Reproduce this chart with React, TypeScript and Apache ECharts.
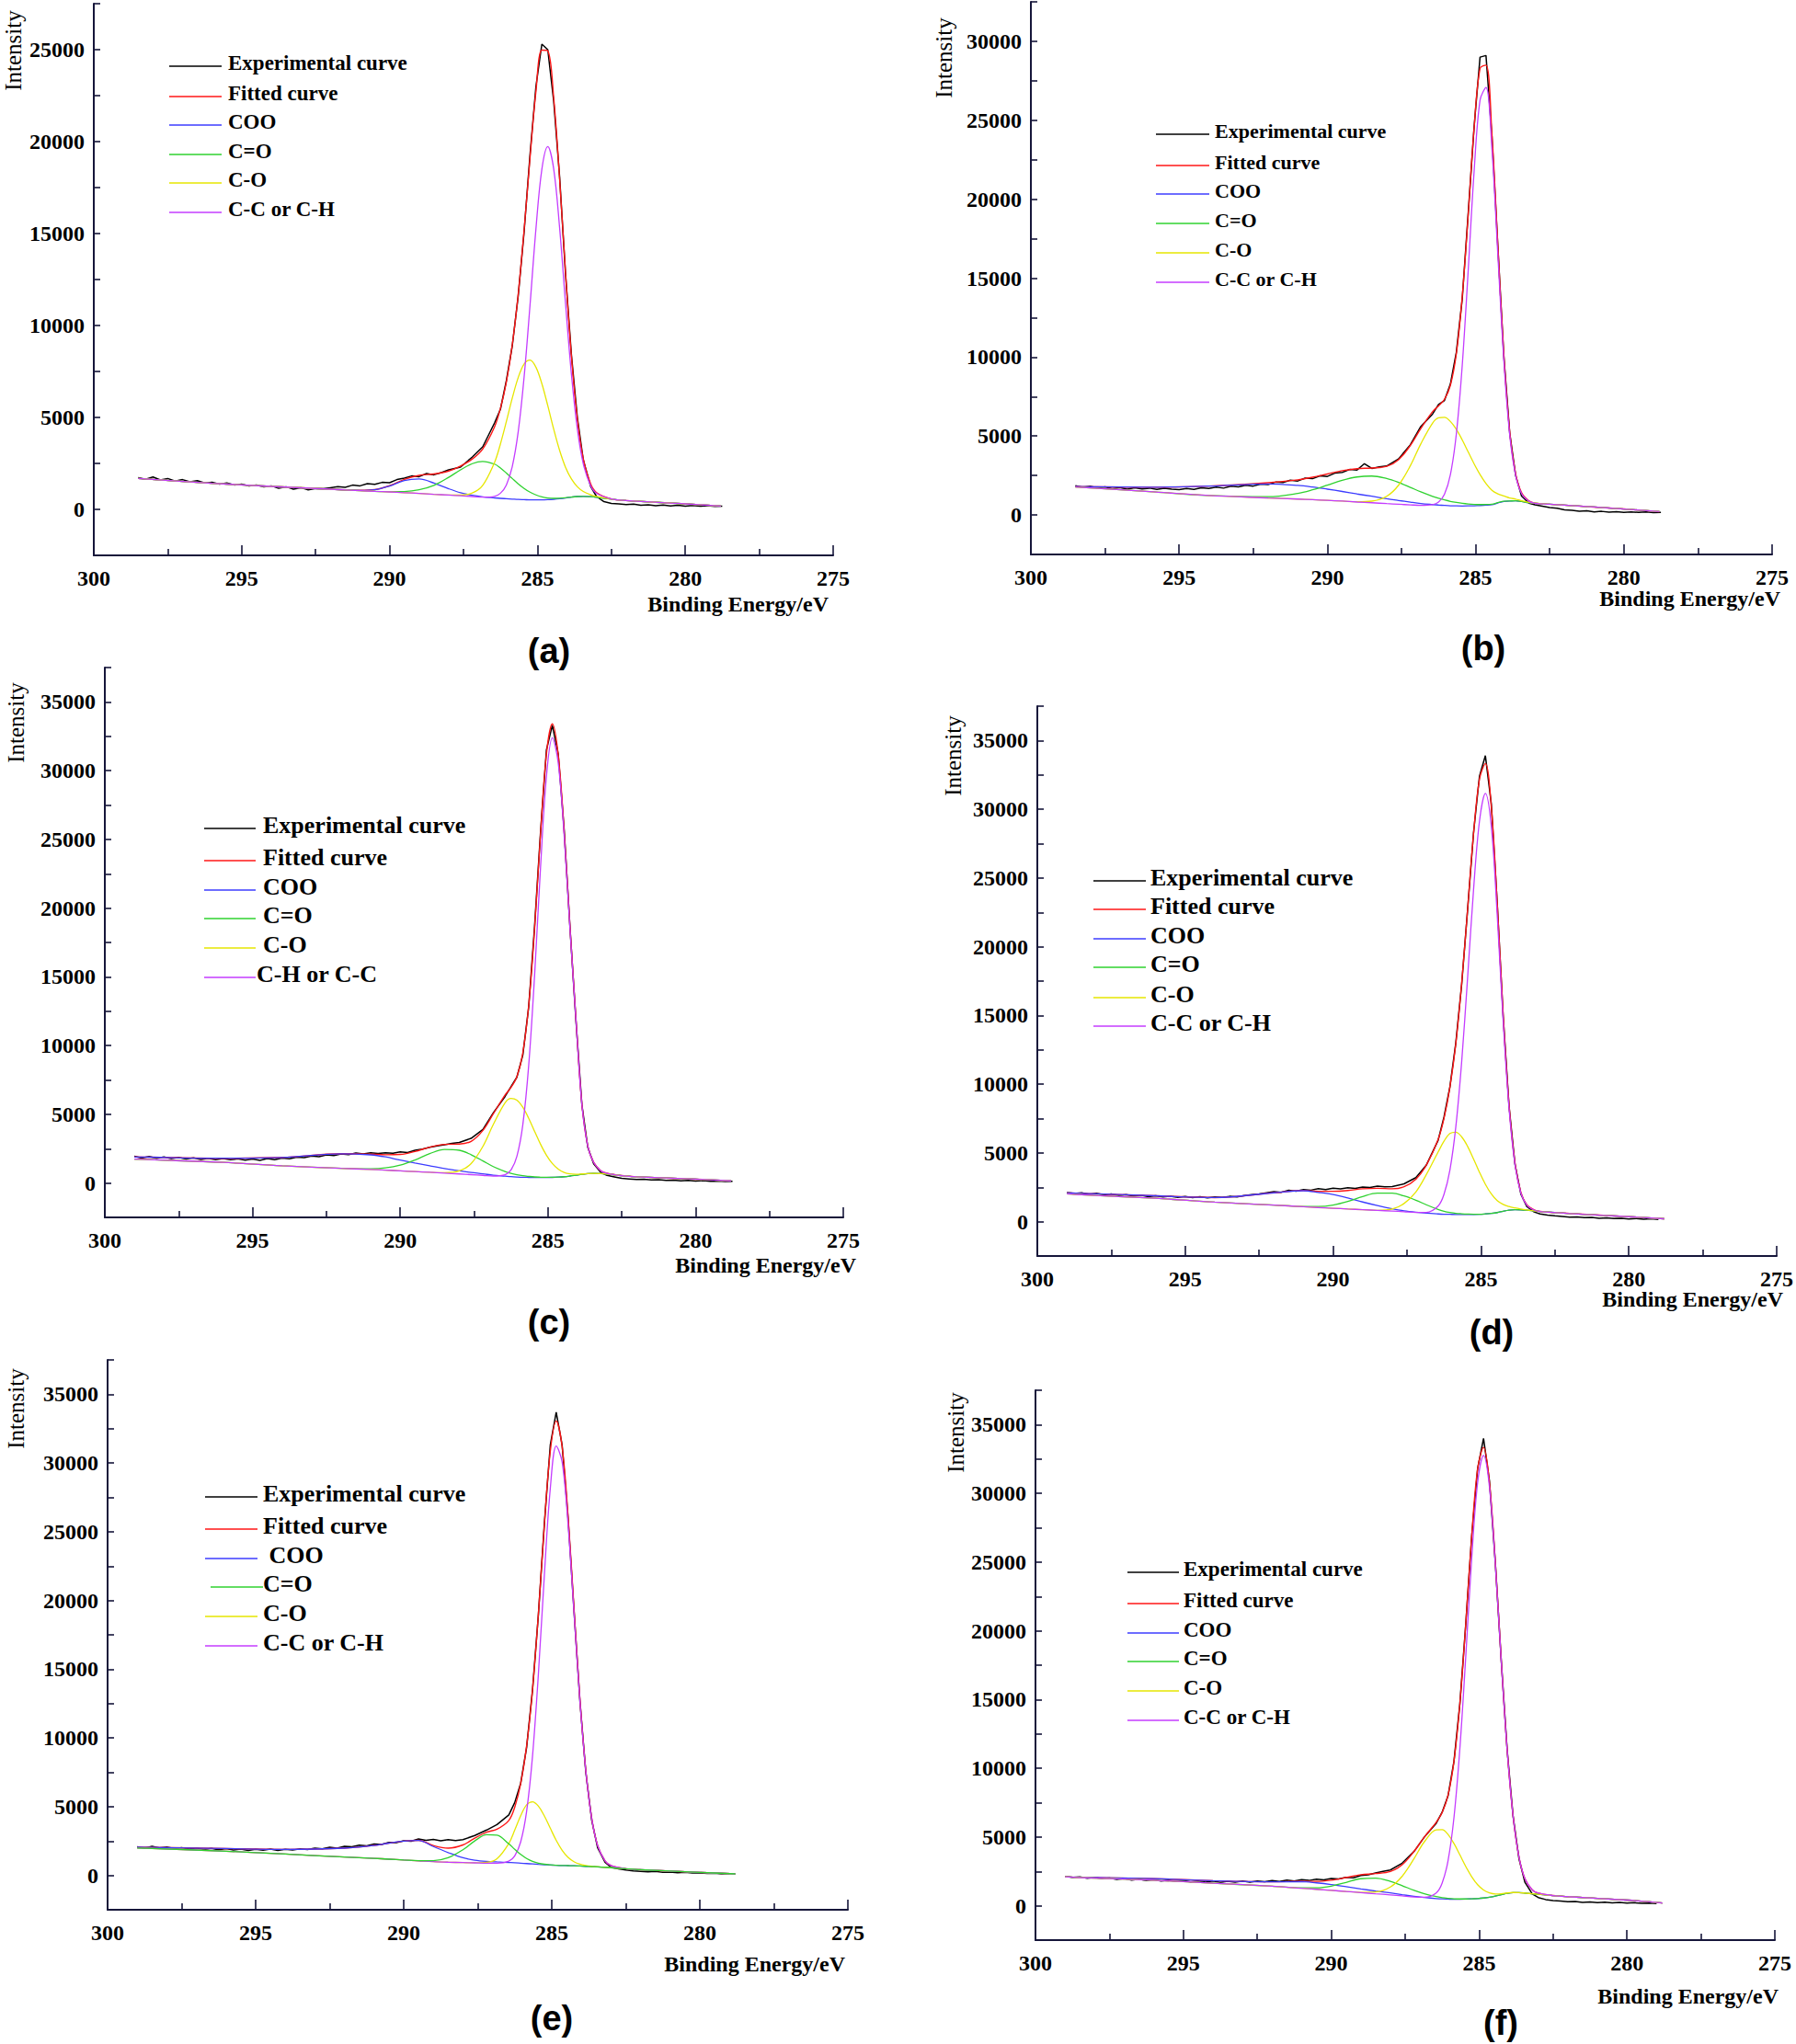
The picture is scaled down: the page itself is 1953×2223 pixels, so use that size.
import React, { useEffect, useRef } from 'react';
import * as echarts from 'echarts';

// ---------- shared x grids (binding energy, eV) ----------
const FIT_X = [299, 298.5, 296, 294, 292, 291, 290.5, 290, 289.5, 289, 288.5, 288, 287.6, 287.2, 286.85, 286.45, 286.25, 286.05, 285.85, 285.65, 285.45, 285.25, 285.05, 284.85, 284.65, 284.45, 284.25, 284.05, 283.85, 283.65, 283.45, 283.2, 283, 282.5, 282, 280, 278.8];

const EXP_X = [299, 298.75, 298.5, 298.25, 298, 297.75, 297.5, 297.25, 297, 296.75, 296.5, 296.25, 296, 295.75, 295.5, 295.25, 295, 294.75, 294.5, 294.25, 294, 293.75, 293.5, 293.25, 293, 292.75, 292.5, 292.25, 292, 291.75, 291.5, 291.25, 291, 290.75, 290.5, 290.25, 290, 289.75, 289.5, 289.25, 289, 288.75, 288.5, 288.25,
  288, 287.6, 287.2, 286.85, 286.45, 286.25, 286.05, 285.85, 285.65, 285.45, 285.25, 285.05, 284.85, 284.65, 284.45, 284.25, 284.05, 283.85, 283.65, 283.45, 283.2, 283,
  282.75, 282.5, 282.25, 282, 281.75, 281.5, 281.25, 281, 280.75, 280.5, 280.25, 280, 279.75, 279.5, 279.25, 279, 278.75];

const X_TICKS = [300, 295, 290, 285, 280, 275];
const Y_MAX = [27500, 32500, 37500, 37500, 37500, 37500];

const SERIES_NAMES = ['Experimental curve', 'Fitted curve', 'COO', 'C=O', 'C-O', 'C-C or C-H'];
const LEGEND_A = ['Experimental curve', 'Fitted curve', 'COO', 'C=O', 'C-O', 'C-C or C-H'];
const LEGEND_B = ['Experimental curve', 'Fitted curve', 'COO', 'C=O', 'C-O', 'C-C or C-H'];
const LEGEND_C = ['Experimental curve', 'Fitted curve', 'COO', 'C=O', 'C-O', 'C-H or C-C'];
const LEGEND_D = ['Experimental curve', 'Fitted curve', 'COO', 'C=O', 'C-O', 'C-C or C-H'];
const LEGEND_E = ['Experimental curve', 'Fitted curve', ' COO', 'C=O', 'C-O', 'C-C or C-H'];
const LEGEND_F = ['Experimental curve', 'Fitted curve', 'COO', 'C=O', 'C-O', 'C-C or C-H'];
const PANEL_LABELS = ['(a)', '(b)', '(c)', '(d)', '(e)', '(f)'];

// ---------- panel (a) ----------
const A_BASE = [null, 1680, 1420, 1250, 1100, 1020, 980, 950, 910, 870, 820, 780, 740, 700, 660, 620, 600, 580, 560, 540, 530, 520, 520, 520, 530, 550, 580, 620, 670, 700, 710, 690, 660, 560, 480, 300, 180];
const A_COO = [0, 0, 0, 0, 0, 14, 89, 321, 661, 785, 616, 343, 167, 66, 24, 6, 0, 0, 0, 0, 0, 0, 0, 0, 0, 0, 0, 0, 0, 0, 0, 0, 0, 0, 0, 0, 0];
const A_CDO = [0, 0, 0, 0, 0, 0, 3, 16, 63, 196, 487, 964, 1411, 1788, 1950, 1842, 1650, 1398, 1121, 851, 611, 415, 267, 163, 94, 51, 26, 12, 0, 0, 0, 0, 0, 0, 0, 0, 0];
const A_CO = [0, 0, 0, 0, 0, 0, 0, 0, 0, 0, 0, 0, 35, 190, 646, 1933, 2965, 4200, 5493, 6627, 7381, 7600, 7210, 6317, 5110, 3816, 2630, 1673, 983, 533, 267, 100, 42, 0, 0, 0, 0];
const A_CC = [0, 0, 0, 0, 0, 0, 0, 0, 0, 0, 0, 0, 0, 0, 6, 90, 280, 750, 1776, 3677, 6667, 10589, 14738, 17972, 19200, 17972, 14738, 10589, 6667, 3677, 1776, 595, 213, 9, 0, 0, 0];
const A_EXP = [null, null, 1720, 1640, 1760, 1600, 1680, 1540, 1620, 1500, 1560, 1440, 1470, 1380, 1440, 1330, 1380, 1270, 1330, 1220, 1280, 1150, 1230, 1100, 1180, 1060, 1140, 1120, 1180, 1240, 1200, 1320, 1280, 1400, 1360, 1470, 1450, 1620, 1700, 1820, 1780, 1950, 1880, 2000,
  2150, 2300, 2850, 3400, 4700, 5450, 7000, 8900, 11600, 15100, 19300, 23000, 25300, 25000, 22200, 18100, 12800, 8400, 5000, 2700, 1250, 700,
  420, 330, 300, 260, 290, 230, 250, 200, 240, 190, 230, 180, 210, 170, 200, 160, 180];

// ---------- panel (b) ----------
const B_BASE = [null, 1770, 1480, 1230, 1080, 1010, 970, 925, 880, 820, 775, 720, 680, 640, 610, 590, 580, 575, 570, 570, 570, 575, 585, 600, 620, 650, 760, 860, 880, 900, 850, 780, 740, 680, 620, 380, 210];
const B_COO = [0, 30, 280, 600, 880, 860, 800, 710, 610, 510, 410, 310, 240, 175, 120, 70, 50, 30, 15, 5, 0, 0, 0, 0, 0, 0, 0, 0, 0, 0, 0, 0, 0, 0, 0, 0, 0];
const B_CDO = [0, 0, 0, 1, 79, 354, 622, 963, 1316, 1587, 1690, 1587, 1381, 1107, 855, 591, 476, 377, 292, 222, 165, 120, 86, 60, 41, 28, 18, 12, 7, 0, 0, 0, 0, 0, 0, 0, 0];
const B_CO = [0, 0, 0, 0, 0, 0, 0, 0, 0, 16, 102, 462, 1203, 2485, 3886, 5232, 5572, 5607, 5352, 4853, 4178, 3416, 2652, 1957, 1370, 911, 576, 346, 197, 106, 55, 20, 9, 0, 0, 0, 0];
const B_CC = [0, 0, 0, 0, 0, 0, 0, 0, 0, 0, 0, 0, 0, 0, 3, 62, 233, 737, 1985, 4560, 8930, 14900, 21190, 25675, 26460, 22550, 15730, 8990, 4200, 1610, 505, 89, 0, 0, 0, 0, 0];
const B_EXP = [null, null, 1850, 1750, 1820, 1700, 1780, 1660, 1740, 1640, 1720, 1650, 1700, 1620, 1690, 1640, 1600, 1680, 1620, 1720, 1680, 1760, 1700, 1820, 1780, 1880, 1830, 1960, 1920, 2080, 2050, 2200, 2150, 2330, 2300, 2480, 2440, 2650, 2700, 2880, 2850, 3250, 2950, 3050,
  3100, 3550, 4450, 5600, 6400, 7000, 7250, 8300, 10300, 13700, 19100, 24600, 29000, 29100, 24000, 17000, 10100, 5200, 2500, 1200, 750, 640,
  560, 470, 420, 330, 300, 240, 260, 200, 230, 180, 210, 170, 200, 160, 190, 150, 170];

// ---------- panel (c) ----------
const C_BASE = [1745, 1700, 1500, 1250, 1070, 990, 940, 885, 830, 780, 720, 660, 610, 560, 500, 460, 440, 425, 415, 410, 400, 400, 400, 410, 430, 460, 510, 570, 630, 680, 700, 680, 650, 540, 450, 280, 160];
const C_COO = [150, 180, 300, 610, 1060, 1060, 960, 780, 620, 470, 340, 230, 160, 110, 70, 40, 25, 15, 5, 0, 0, 0, 0, 0, 0, 0, 0, 0, 0, 0, 0, 0, 0, 0, 0, 0, 0];
const C_CDO = [0, 0, 0, 0, 2, 48, 159, 413, 843, 1358, 1723, 1723, 1452, 1050, 698, 379, 264, 177, 114, 71, 42, 24, 13, 7, 0, 0, 0, 0, 0, 0, 0, 0, 0, 0, 0, 0, 0];
const C_CO = [0, 0, 0, 0, 0, 0, 0, 0, 0, 0, 29, 224, 808, 2108, 3753, 5381, 5716, 5609, 5100, 4297, 3353, 2424, 1626, 1010, 581, 310, 153, 70, 30, 12, 0, 0, 0, 0, 0, 0, 0];
const C_CC = [0, 0, 0, 0, 0, 0, 0, 0, 0, 0, 0, 0, 0, 0, 7, 144, 508, 1513, 3818, 8155, 14733, 22533, 29172, 31978, 30113, 24817, 17909, 11302, 5100, 2000, 800, 200, 60, 0, 0, 0, 0];
const C_EXP = [1950, 1820, 1930, 1800, 1900, 1780, 1860, 1740, 1830, 1720, 1800, 1700, 1780, 1690, 1760, 1660, 1750, 1650, 1780, 1700, 1820, 1760, 1880, 1850, 1960, 1920, 2050, 2000, 2120, 2060, 2180, 2120, 2200, 2150, 2200, 2170, 2260, 2220, 2380, 2470, 2600, 2700, 2780, 2880,
  2950, 3250, 3900, 5100, 6300, 7000, 7700, 9300, 12800, 18700, 25500, 31500, 33300, 31200, 25700, 18500, 11800, 5700, 2600, 1400, 750, 560,
  450, 340, 300, 260, 280, 220, 240, 190, 210, 160, 190, 140, 170, 120, 150, 110, 120];

// ---------- panel (d) ----------
const D_BASE = [2020, 1950, 1700, 1420, 1200, 1090, 1030, 975, 920, 870, 820, 770, 720, 660, 610, 560, 540, 530, 520, 520, 520, 520, 530, 560, 600, 660, 760, 840, 870, 860, 830, 780, 740, 660, 590, 360, 210];
const D_COO = [90, 110, 180, 330, 900, 1160, 1100, 1000, 800, 560, 350, 170, 70, 25, 5, 0, 0, 0, 0, 0, 0, 0, 0, 0, 0, 0, 0, 0, 0, 0, 0, 0, 0, 0, 0, 0, 0];
const D_CDO = [0, 0, 0, 0, 0, 18, 74, 234, 549, 960, 1250, 1300, 1150, 900, 620, 330, 220, 140, 83, 53, 32, 19, 11, 6, 0, 0, 0, 0, 0, 0, 0, 0, 0, 0, 0, 0, 0];
const D_CO = [0, 0, 0, 0, 0, 0, 0, 0, 0, 0, 5, 150, 600, 1500, 2800, 4500, 5312, 5878, 5980, 5642, 4950, 4038, 3063, 2161, 1416, 864, 490, 258, 127, 58, 25, 8, 0, 0, 0, 0, 0];
const D_CC = [0, 0, 0, 0, 0, 0, 0, 0, 0, 0, 0, 0, 0, 6, 61, 566, 1438, 3213, 6365, 11154, 17258, 23623, 28593, 30600, 28183, 21656, 13871, 7405, 3299, 1224, 379, 67, 0, 0, 0, 0, 0];
const D_EXP = [2120, 2050, 2100, 1980, 2060, 1950, 2010, 1900, 1960, 1870, 1930, 1820, 1880, 1790, 1850, 1760, 1830, 1740, 1820, 1730, 1790, 1760, 1840, 1800, 1900, 1960, 2020, 2100, 2180, 2140, 2280, 2220, 2330, 2290, 2400, 2330, 2440, 2380, 2470, 2420, 2520, 2480, 2580, 2540,
  2550, 2750, 3200, 4100, 5900, 7600, 9800, 13000, 17300, 22700, 28300, 32400, 33900, 30400, 23200, 15000, 8400, 4200, 2000, 1100, 700, 560,
  470, 420, 380, 330, 350, 290, 310, 250, 280, 220, 250, 200, 230, 180, 210, 160, null];

// ---------- panel (e) ----------
const E_BASE = [1990, 1960, 1760, 1550, 1340, 1240, 1180, 1120, 1060, 1000, 960, 930, 910, 890, 880, 865, 860, 840, 820, 800, 780, 760, 745, 730, 720, 710, 700, 680, 660, 640, 620, 590, 560, 480, 410, 220, 110];
const E_COO = [60, 80, 190, 340, 640, 940, 1170, 1370, 1480, 1100, 700, 350, 200, 130, 100, 75, 60, 50, 40, 30, 20, 15, 10, 0, 0, 0, 0, 0, 0, 0, 0, 0, 0, 0, 0, 0, 0];
const E_CDO = [0, 0, 0, 0, 0, 0, 0, 0, 11, 73, 324, 936, 1598, 2067, 2041, 1427, 1036, 685, 412, 226, 112, 51, 21, 8, 0, 0, 0, 0, 0, 0, 0, 0, 0, 0, 0, 0, 0];
const E_CO = [0, 0, 0, 0, 0, 0, 0, 0, 0, 0, 0, 0, 4, 54, 329, 1459, 2440, 3504, 4313, 4552, 4250, 3564, 2687, 1820, 1108, 607, 298, 132, 52, 18, 6, 0, 0, 0, 0, 0, 0];
const E_CC = [0, 0, 0, 0, 0, 0, 0, 0, 0, 0, 0, 0, 0, 0, 10, 174, 566, 1591, 3825, 7876, 13920, 21090, 27390, 30505, 29360, 24825, 18450, 12056, 6924, 3488, 1548, 468, 156, 6, 0, 0, 0];
const E_EXP = [2080, 1980, 2120, 2000, 2060, 1950, 2020, 1920, 1990, 1880, 1960, 1860, 1940, 1850, 1920, 1820, 1900, 1830, 1910, 1820, 1900, 1840, 1930, 1880, 1980, 1930, 2050, 1990, 2120, 2080, 2200, 2150, 2280, 2250, 2400, 2380, 2520, 2480, 2650, 2550, 2620, 2520, 2600, 2540,
  2600, 2900, 3300, 3700, 4400, 5300, 6700, 9300, 13500, 19000, 25600, 31300, 33700, 31300, 26000, 19300, 12700, 7500, 4000, 2000, 950, 600,
  480, 400, 330, 300, 260, 290, 230, 250, 190, 220, 170, 190, 140, 160, 110, 130, null];

// ---------- panel (f) ----------
const F_BASE = [2110, 2050, 1850, 1640, 1420, 1270, 1195, 1115, 1040, 955, 870, 790, 715, 640, 580, 520, 495, 480, 470, 470, 480, 500, 520, 560, 620, 700, 800, 900, 950, 950, 920, 870, 830, 740, 660, 410, 200];
const F_COO = [0, 20, 120, 180, 320, 480, 470, 430, 350, 270, 200, 140, 90, 40, 20, 5, 0, 0, 0, 0, 0, 0, 0, 0, 0, 0, 0, 0, 0, 0, 0, 0, 0, 0, 0, 0, 0];
const F_CDO = [0, 0, 0, 0, 0, 28, 108, 312, 656, 1010, 1138, 985, 743, 482, 293, 144, 95, 61, 37, 22, 13, 7, 0, 0, 0, 0, 0, 0, 0, 0, 0, 0, 0, 0, 0, 0, 0];
const F_CO = [0, 0, 0, 0, 0, 0, 0, 0, 0, 20, 131, 577, 1435, 2789, 4077, 4994, 5035, 4704, 4057, 3229, 2374, 1610, 1009, 583, 311, 153, 70, 29, 11, 4, 0, 0, 0, 0, 0, 0, 0];
const F_CC = [0, 0, 0, 0, 0, 0, 0, 0, 0, 0, 0, 0, 0, 0, 34, 412, 1152, 2801, 5940, 10980, 17671, 24771, 30258, 32200, 29843, 24099, 16952, 10391, 5545, 2579, 1047, 279, 83, 2, 0, 0, 0];
const F_EXP = [2130, 2060, 2100, 2000, 2060, 1960, 2010, 1920, 1980, 1870, 1930, 1830, 1900, 1800, 1860, 1760, 1830, 1730, 1800, 1720, 1790, 1700, 1780, 1710, 1790, 1720, 1800, 1740, 1830, 1760, 1860, 1800, 1900, 1840, 1930, 1880, 1980, 1950, 2060, 2030, 2200, 2250, 2380, 2500,
  2600, 3100, 3950, 5000, 6000, 6800, 8000, 10500, 14700, 20500, 26900, 31800, 34000, 30900, 24900, 17800, 11300, 6500, 3400, 1700, 850, 600,
  450, 380, 340, 290, 310, 250, 280, 230, 260, 210, 240, 190, 220, 170, 200, 160, null];

const PANELS = [
  { base: A_BASE, coo: A_COO, cdo: A_CDO, co: A_CO, cc: A_CC, exp: A_EXP, legend: LEGEND_A },
  { base: B_BASE, coo: B_COO, cdo: B_CDO, co: B_CO, cc: B_CC, exp: B_EXP, legend: LEGEND_B },
  { base: C_BASE, coo: C_COO, cdo: C_CDO, co: C_CO, cc: C_CC, exp: C_EXP, legend: LEGEND_C },
  { base: D_BASE, coo: D_COO, cdo: D_CDO, co: D_CO, cc: D_CC, exp: D_EXP, legend: LEGEND_D },
  { base: E_BASE, coo: E_COO, cdo: E_CDO, co: E_CO, cc: E_CC, exp: E_EXP, legend: LEGEND_E },
  { base: F_BASE, coo: F_COO, cdo: F_CDO, co: F_CO, cc: F_CC, exp: F_EXP, legend: LEGEND_F },
];

// ---------- layout & style (kept apart from data) ----------
const LAYOUT = [
  { grid: { left: 102, top: 4, width: 804, height: 600 }, lx1: [184, 184, 184, 184, 184, 184], lx2: [241, 241, 241, 241, 241, 241], tx: [248, 248, 248, 248, 248, 248], rows: [72, 105, 136, 168, 199, 231], fs: 23, intensity: [14, 55], xname: [901, 657], label: [597, 708] },
  { grid: { left: 1121, top: 2, width: 806, height: 601 }, lx1: [1257, 1257, 1257, 1257, 1257, 1257], lx2: [1315, 1315, 1315, 1315, 1315, 1315], tx: [1321, 1321, 1321, 1321, 1321, 1321], rows: [146, 180, 211, 243, 275, 307], fs: 22, intensity: [1026, 63], xname: [1936, 651], label: [1613, 705] },
  { grid: { left: 114, top: 726, width: 803, height: 598 }, lx1: [222, 222, 222, 222, 222, 222], lx2: [278, 278, 278, 278, 278, 278], tx: [286, 286, 286, 286, 286, 279], rows: [901, 936, 968, 999, 1031, 1063], fs: 26, intensity: [17, 786], xname: [931, 1376], label: [597, 1438] },
  { grid: { left: 1128, top: 768, width: 804, height: 598 }, lx1: [1189, 1189, 1189, 1189, 1189, 1189], lx2: [1246, 1246, 1246, 1246, 1246, 1246], tx: [1251, 1251, 1251, 1251, 1251, 1251], rows: [958, 989, 1021, 1052, 1085, 1116], fs: 26, intensity: [1036, 822], xname: [1939, 1413], label: [1622, 1449] },
  { grid: { left: 117, top: 1479, width: 805, height: 598 }, lx1: [223, 223, 223, 229, 223, 223], lx2: [280, 280, 280, 286, 280, 280], tx: [286, 286, 286, 286, 286, 286], rows: [1628, 1663, 1695, 1726, 1758, 1790], fs: 26, intensity: [17, 1532], xname: [919, 2136], label: [600, 2195] },
  { grid: { left: 1126, top: 1512, width: 804, height: 598 }, lx1: [1226, 1226, 1226, 1226, 1226, 1226], lx2: [1282, 1282, 1282, 1282, 1282, 1282], tx: [1287, 1287, 1287, 1287, 1287, 1287], rows: [1710, 1744, 1776, 1807, 1839, 1871], fs: 23, intensity: [1039, 1558], xname: [1934, 2171], label: [1632, 2200] },
];

const COLORS = ['#000000', '#ff1616', '#3c3cff', '#2fd22f', '#e6e600', '#c43cff'];
const AXIS_COLOR = '#16163a';
const SERIF = '"Liberation Serif", "Times New Roman", serif';
const SANS = '"Liberation Sans", Arial, sans-serif';

function buildOption() {
  const grid: any[] = [];
  const xAxis: any[] = [];
  const yAxis: any[] = [];
  const series: any[] = [];
  const graphic: any[] = [];

  PANELS.forEach((p, k) => {
    const L = LAYOUT[k];
    grid.push({ ...L.grid, containLabel: false });
    xAxis.push({
      gridIndex: k, type: 'value', min: X_TICKS[X_TICKS.length - 1], max: X_TICKS[0], interval: 5, inverse: true,
      axisLine: { show: true, onZero: false, lineStyle: { color: AXIS_COLOR, width: 2 } },
      axisTick: { show: true, inside: true, length: 11, lineStyle: { color: AXIS_COLOR, width: 1.6 } },
      minorTick: { show: true, splitNumber: 2, length: 7, lineStyle: { color: AXIS_COLOR, width: 1.6 } },
      splitLine: { show: false }, minorSplitLine: { show: false },
      axisLabel: { color: '#000', fontFamily: SERIF, fontWeight: 'bold', fontSize: 24, margin: 13 },
    });
    yAxis.push({
      gridIndex: k, type: 'value', min: -2500, max: Y_MAX[k], interval: 2500,
      axisLine: { show: true, onZero: false, lineStyle: { color: AXIS_COLOR, width: 2 } },
      axisTick: { show: true, inside: true, length: 7, lineStyle: { color: AXIS_COLOR, width: 1.6 } },
      splitLine: { show: false },
      axisLabel: {
        color: '#000', fontFamily: SERIF, fontWeight: 'bold', fontSize: 24, margin: 10,
        formatter: (v: number) => (v >= 0 && v % 5000 === 0 ? String(v) : ''),
      },
    });

    const comps = [p.coo, p.cdo, p.co, p.cc];
    const fitData: any[] = [];
    FIT_X.forEach((x, i) => {
      const b = p.base[i];
      if (b == null) return;
      fitData.push([x, b + p.coo[i] + p.cdo[i] + p.co[i] + p.cc[i]]);
    });
    const compData = comps.map((arr) => {
      const d: any[] = [];
      FIT_X.forEach((x, i) => {
        const b = p.base[i];
        if (b == null) return;
        d.push([x, b + arr[i]]);
      });
      return d;
    });
    const expData: any[] = [];
    EXP_X.forEach((x, i) => {
      const v = p.exp[i];
      if (v == null) return;
      expData.push([x, v]);
    });

    const mk = (idx: number, data: any[], width: number, smooth: any, z: number) => ({
      type: 'line', name: SERIES_NAMES[idx], xAxisIndex: k, yAxisIndex: k, data,
      symbol: 'none', showSymbol: false, smooth, silent: true, z,
      lineStyle: { color: COLORS[idx], width }, itemStyle: { color: COLORS[idx] },
    });
    series.push(mk(0, expData, 1.5, false, 2));
    series.push(mk(1, fitData, 1.4, 0.35, 3));
    series.push(mk(2, compData[0], 1.3, 0.35, 4));
    // in panel (e) the C=O line lies on top of the baseline
    series.push(mk(3, compData[1], 1.3, 0.35, k === 4 ? 8 : 5));
    series.push(mk(4, compData[2], 1.3, 0.35, 6));
    series.push(mk(5, compData[3], 1.3, 0.35, 7));

    // legend
    p.legend.forEach((txt, r) => {
      const y = L.rows[r];
      graphic.push({ type: 'line', silent: true, shape: { x1: L.lx1[r], y1: y, x2: L.lx2[r], y2: y }, style: { stroke: COLORS[r], lineWidth: 1.6 } });
      graphic.push({
        type: 'text', silent: true, x: L.tx[r], y: y - 4,
        style: { text: txt, fill: '#000', fontFamily: SERIF, fontWeight: 'bold', fontSize: L.fs, align: 'left', verticalAlign: 'middle', textAlign: 'left', textVerticalAlign: 'middle' },
      });
    });
    // axis names and panel label
    graphic.push({
      type: 'text', silent: true, x: L.intensity[0], y: L.intensity[1], rotation: Math.PI / 2,
      style: { text: 'Intensity', fill: '#000', fontFamily: SERIF, fontSize: 25, align: 'center', verticalAlign: 'middle', textAlign: 'center', textVerticalAlign: 'middle' },
    });
    graphic.push({
      type: 'text', silent: true, x: L.xname[0], y: L.xname[1],
      style: { text: 'Binding Energy/eV', fill: '#000', fontFamily: SERIF, fontWeight: 'bold', fontSize: 24, align: 'right', verticalAlign: 'middle', textAlign: 'right', textVerticalAlign: 'middle' },
    });
    graphic.push({
      type: 'text', silent: true, x: L.label[0], y: L.label[1],
      style: { text: PANEL_LABELS[k], fill: '#000', fontFamily: SANS, fontWeight: 'bold', fontSize: 38, align: 'center', verticalAlign: 'middle', textAlign: 'center', textVerticalAlign: 'middle' },
    });
  });

  return {
    animation: false,
    backgroundColor: '#ffffff',
    grid, xAxis, yAxis, series, graphic,
  };
}

export default function App() {
  const ref = useRef<HTMLDivElement>(null);
  useEffect(() => {
    if (!ref.current) return;
    const chart = echarts.init(ref.current, undefined, { renderer: 'svg' });
    chart.setOption(buildOption() as any);
    return () => chart.dispose();
  }, []);
  return (
    <div
      ref={ref}
      style={{ position: 'absolute', left: 0, top: 0, width: 1953, height: 2223, background: '#fff' }}
    />
  );
}
